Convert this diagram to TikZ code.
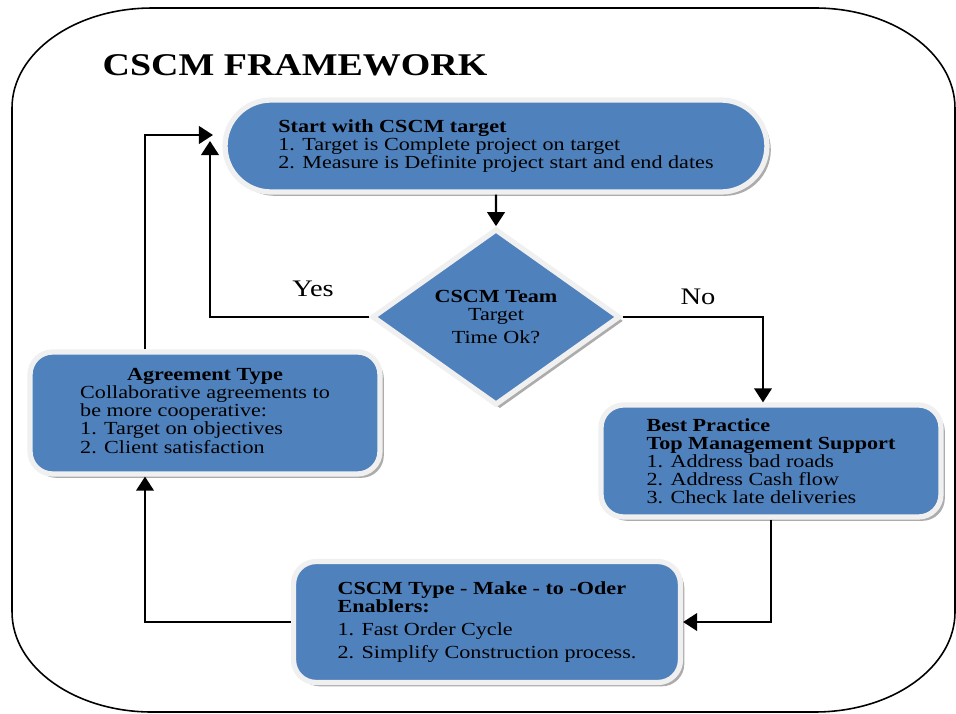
\documentclass[tikz,border=0pt]{standalone}
\usepackage{fontspec}
\setmainfont{Liberation Serif}[FakeStretch=1.2]
\usepackage{tikz}
\usetikzlibrary{arrows.meta}
\usetikzlibrary{positioning}
\usetikzlibrary{shapes.geometric}
\usetikzlibrary{shapes.misc}
\usetikzlibrary{shadows}
\definecolor{boxblue}{HTML}{4F81BD}

\begin{document}
\begin{tikzpicture}[x=0.02cm, y=-0.02cm,
    block/.style={fill=boxblue, draw=gray!12, line width=3pt,
      drop shadow={shadow xshift=2.2pt, shadow yshift=-2.2pt, fill=gray!65, opacity=1},
      font=\fontsize{10.5}{10.2}\selectfont, inner sep=0pt},
    stepbox/.style={block, rectangle, rounded corners=0.45cm},
    flow/.style={draw, line width=1.3pt, -{Triangle[length=8pt, width=10pt]}}]
      \useasboundingbox (0,0) rectangle (956,713);

      % outer frame
      \draw[line width=0.9pt] (12,108) arc[start angle=180, end angle=90, x radius=2.8cm, y radius=2cm]
        -- (815,8) arc[start angle=90, end angle=0, x radius=2.8cm, y radius=2cm]
        -- (955,612) arc[start angle=0, end angle=-90, x radius=2.8cm, y radius=2cm]
        -- (152,712) arc[start angle=270, end angle=180, x radius=2.8cm, y radius=2cm] -- cycle;

      \node (title) at (295,65) {\fontsize{18}{20}\selectfont\bfseries CSCM FRAMEWORK};

      \node [block, rounded rectangle, minimum width=10.84cm, minimum height=1.84cm, align=left]
        (start) at (496,146) {\textbf{Start with CSCM target}\\ 1. Target is Complete project on target\\ 2. Measure is Definite project start and end dates};
      \node [block, diamond, minimum width=4.96cm, minimum height=2.84cm, align=center]
        (team) at (496,317) {\textbf{CSCM Team}\\ Target\\[3pt] Time Ok?};
      \node [stepbox, minimum width=6.8cm, minimum height=2.24cm, align=left]
        (practice) at (771,461) {\textbf{Best Practice}\\ \textbf{Top Management Support}\\ 1. Address bad roads\\ 2. Address Cash flow\\ 3. Check late deliveries};
      \node [stepbox, minimum width=7.74cm, minimum height=2.42cm, align=left]
        (maketo) at (487,622) {\textbf{CSCM Type - Make - to -Oder}\\ \textbf{Enablers:}\\[3pt] 1. Fast Order Cycle\\[3pt] 2. Simplify Construction process.};
      \node [stepbox, minimum width=7cm, minimum height=2.44cm]
        (agree) at (205,413) {\begin{tabular}{@{}l@{}}\multicolumn{1}{@{}c@{}}{\textbf{Agreement Type}}\\ Collaborative agreements to\\ be more cooperative:\\ 1. Target on objectives\\ 2. Client satisfaction\end{tabular}};

      \node [font=\fontsize{13.5}{15}\selectfont] (yes) at (313,289) {Yes};
      \node [font=\fontsize{13.5}{15}\selectfont] (no) at (698,297) {No};

      \coordinate (yestip) at (210,141);
      \coordinate (looptip) at (213,135);

      \draw [flow] (start) -- (team);
      \draw [flow] (team.west) -| (yestip);
      \draw [flow] (team.east) -| ([xshift=-0.16cm]practice.north);
      \draw [flow] (practice.south) |- (maketo.east);
      \draw [flow] (maketo.west) -| ([xshift=-1.2cm]agree.south);
      \draw [flow] ([xshift=-1.2cm]agree.north) |- (looptip);
    \end{tikzpicture}
\end{document}
